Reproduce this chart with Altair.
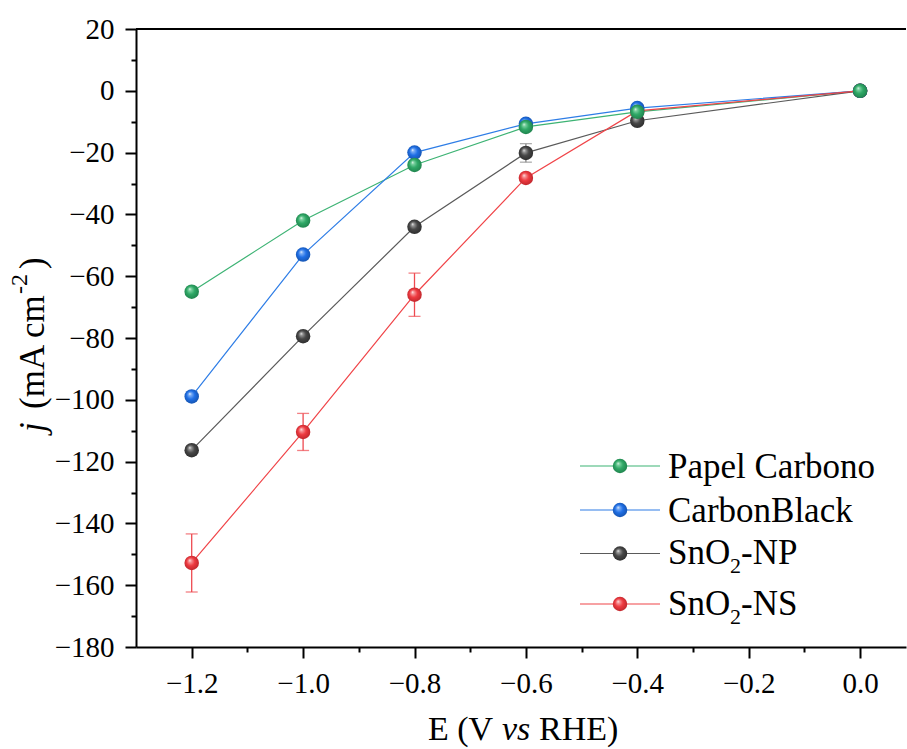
import altair as alt
import pandas as pd

# Applied potential (V vs RHE)
potential = [-1.2, -1.0, -0.8, -0.6, -0.4, 0.0]

series_names = ["Papel Carbono", "CarbonBlack", "SnO2-NP", "SnO2-NS"]

# Current density j (mA cm^-2) for each electrode
j_papel = [-65.0, -42.0, -24.0, -11.7, -6.8, 0.0]
j_cblack = [-98.9, -53.0, -20.0, -10.7, -5.6, 0.0]
j_np = [-116.3, -79.4, -44.0, -20.1, -9.7, 0.0]
j_ns = [-152.8, -110.4, -66.0, -28.2, -6.5, 0.0]

# Standard deviations (0 = no bar drawn)
err_papel = [0, 0, 0, 0, 0, 0]
err_cblack = [0, 0, 0, 0, 0, 0]
err_np = [0.8, 0, 0, 3.0, 0, 0]
err_ns = [9.4, 6.0, 7.0, 0, 2.0, 0]

# Legend text pieces (main text, subscript, tail)
legend_main = ["Papel Carbono", "CarbonBlack", "SnO", "SnO"]
legend_sub = ["", "", "2", "2"]
legend_tail = ["", "", "-NP", "-NS"]

FONT = "Liberation Serif"
W, H = 770, 618

line_colors = ["#3DB374", "#2E7DE6", "#5A5A5A", "#F04448"]
ball_colors = [
    ("#2FA866", "#7FD3A3", "#1E7E4A"),
    ("#1F6FE6", "#7FB0F5", "#1450A8"),
    ("#474747", "#9A9A9A", "#2A2A2A"),
    ("#EE3A40", "#F7999C", "#B8242A"),
]
err_colors = ["#3DB374", "#2E7DE6", "#8A8A8A", "#EE4A50"]

values = [j_papel, j_cblack, j_np, j_ns]
errors = [err_papel, err_cblack, err_np, err_ns]

rows = []
for name, vals, errs in zip(series_names, values, errors):
    for e, v, s in zip(potential, vals, errs):
        rows.append({"series": name, "E": e, "j": v, "err": s,
                     "lo": v - s, "hi": v + s})
df = pd.DataFrame(rows)


def sphere(base, light, dark):
    return {
        "gradient": "radial",
        "x1": 0.36, "y1": 0.32, "r1": 0.0,
        "x2": 0.5, "y2": 0.5, "r2": 0.56,
        "stops": [
            {"offset": 0.0, "color": "#ffffff"},
            {"offset": 0.16, "color": light},
            {"offset": 0.5, "color": base},
            {"offset": 1.0, "color": dark},
        ],
    }


axis_style = dict(
    labelFont=FONT, labelFontSize=29, labelColor="black",
    domainColor="black", domainWidth=2, tickColor="black", tickWidth=2,
    grid=False, title=None,
)

x_axis = alt.Axis(
    values=[round(-1.2 + 0.1 * i, 1) for i in range(13)],
    format=".1f",
    labelExpr="abs(round(datum.value * 10)) % 2 == 0 ? datum.label : ''",
    tickSize={"condition": {"test": "abs(round(datum.value * 10)) % 2 == 0", "value": 11}, "value": 5},
    labelPadding=11,
    **axis_style,
)
y_axis = alt.Axis(
    values=list(range(-180, 21, 10)),
    format="d",
    labelExpr="datum.value % 20 == 0 ? datum.label : ''",
    tickSize={"condition": {"test": "datum.value % 20 == 0", "value": 11}, "value": 5},
    labelPadding=11,
    **axis_style,
)

x_scale = alt.Scale(domain=[-1.3, 0.0824], nice=False, zero=False)
y_scale = alt.Scale(domain=[-180, 20], nice=False, zero=False)
x_enc = alt.X("E:Q", scale=x_scale, axis=x_axis)
y_enc = alt.Y("j:Q", scale=y_scale, axis=y_axis)

base = alt.Chart(df)

lines = base.mark_line(strokeWidth=1.2).encode(
    x=x_enc, y=y_enc,
    color=alt.Color("series:N", scale=alt.Scale(domain=series_names, range=line_colors), legend=None),
    detail="series:N",
)

err_df = df[df["err"] > 0]
err_layers = []
for name, col in zip(series_names, err_colors):
    sub = err_df[err_df["series"] == name]
    if len(sub) == 0:
        continue
    c = alt.Chart(sub)
    err_layers.append(c.mark_rule(color=col, strokeWidth=1.3).encode(
        x=x_enc, y=alt.Y("lo:Q", scale=y_scale, axis=y_axis), y2="hi:Q"))
    err_layers.append(c.mark_tick(color=col, thickness=1.3, size=12, orient="horizontal").encode(
        x=x_enc, y=alt.Y("lo:Q", scale=y_scale, axis=y_axis)))
    err_layers.append(c.mark_tick(color=col, thickness=1.3, size=12, orient="horizontal").encode(
        x=x_enc, y=alt.Y("hi:Q", scale=y_scale, axis=y_axis)))

ball_size = 210
ball_layers = []
for idx in [2, 3, 1, 0]:
    name = series_names[idx]
    b, l, d = ball_colors[idx]
    ball_layers.append(
        alt.Chart(df[df["series"] == name]).mark_point(
            shape="circle", filled=True, size=ball_size, opacity=1,
            fill=sphere(b, l, d), strokeOpacity=0,
        ).encode(x=x_enc, y=y_enc)
    )

# top frame line
frame_top = alt.Chart(pd.DataFrame({"a": [0]})).mark_rule(color="black", strokeWidth=2).encode(
    x=alt.value(0), x2=alt.value(W), y=alt.value(0))

# legend
legend_layers = []
row_y = [437, 481, 524.5, 575]
base_y = [448.5, 492.5, 534.5, 586]
for i in range(len(series_names)):
    one = alt.Chart(pd.DataFrame({"main": [legend_main[i]], "sub": [legend_sub[i]], "tail": [legend_tail[i]]}))
    legend_layers.append(one.mark_rule(color=line_colors[i], strokeWidth=1.2).encode(
        x=alt.value(444), x2=alt.value(524), y=alt.value(row_y[i])))
    b, l, d = ball_colors[i]
    legend_layers.append(one.mark_point(
        shape="circle", filled=True, size=ball_size, opacity=1,
        fill=sphere(b, l, d), strokeOpacity=0,
    ).encode(x=alt.value(484), y=alt.value(row_y[i])))
    legend_layers.append(one.mark_text(
        font=FONT, fontSize=35, align="left", baseline="alphabetic", color="black",
    ).encode(x=alt.value(532), y=alt.value(base_y[i]), text="main:N"))
    if legend_sub[i]:
        legend_layers.append(one.mark_text(
            font=FONT, fontSize=22, align="left", baseline="alphabetic", color="black",
        ).encode(x=alt.value(594), y=alt.value(base_y[i] + 9), text="sub:N"))
        legend_layers.append(one.mark_text(
            font=FONT, fontSize=35, align="left", baseline="alphabetic", color="black",
        ).encode(x=alt.value(605), y=alt.value(base_y[i]), text="tail:N"))

# axis titles composed from styled pieces
title_df = pd.DataFrame({"t": ["E (V", "vs", "RHE)", "j", "(mA cm", "-2", ")"]})


def piece(k, **kw):
    return alt.Chart(title_df.iloc[[k]]).mark_text(font=FONT, color="black", baseline="alphabetic", align="left", **kw)


title_layers = [
    piece(0, fontSize=34).encode(x=alt.value(292), y=alt.value(711), text="t:N"),
    piece(1, fontSize=34, fontStyle="italic").encode(x=alt.value(366), y=alt.value(711), text="t:N"),
    piece(2, fontSize=34).encode(x=alt.value(403), y=alt.value(711), text="t:N"),
    piece(3, fontSize=35, fontStyle="italic", angle=270).encode(x=alt.value(-92), y=alt.value(403), text="t:N"),
    piece(4, fontSize=35, angle=270).encode(x=alt.value(-92), y=alt.value(380), text="t:N"),
    piece(5, fontSize=24, angle=270).encode(x=alt.value(-109), y=alt.value(265), text="t:N"),
    piece(6, fontSize=35, angle=270).encode(x=alt.value(-92), y=alt.value(240), text="t:N"),
]

chart = alt.layer(
    lines, *err_layers, *ball_layers, frame_top, *legend_layers, *title_layers
).properties(
    width=W, height=H,
    padding={"left": 136, "top": 29, "right": 1, "bottom": 102},
    autosize=alt.AutoSizeParams(type="none"),
).configure_view(stroke=None)

chart.save("out.html", embed_options={"renderer": "svg", "actions": False})
